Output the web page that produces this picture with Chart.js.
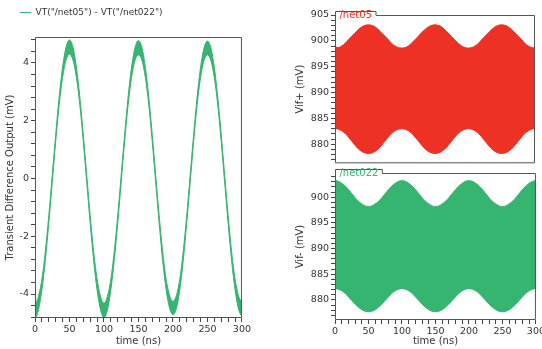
<!DOCTYPE html>
<html>
<head>
<meta charset="utf-8">
<script src="https://cdn.jsdelivr.net/npm/chart.js@4.4.1/dist/chart.umd.min.js"></script>
<style>
  body { margin: 0; background: #fff; width: 542px; height: 349px; position: relative; overflow: hidden; }
  canvas { position: absolute; }
</style>
</head>
<body>
<canvas id="diffChart" width="253" height="349" style="left:0;top:0"></canvas>
<canvas id="plusChart" width="252" height="171" style="left:290px;top:0"></canvas>
<canvas id="minusChart" width="257" height="184" style="left:290px;top:165px"></canvas>
<script>
// --- Datos ---
const timeNs = [0, 1, 5, 10, 15, 20, 25, 30, 35, 40, 45, 50,
  55, 60, 65, 70, 75, 80, 85, 90, 95, 100,
  105, 110, 115, 120, 125, 130, 135, 140, 145, 150,
  155, 160, 165, 170, 175, 180, 185, 190, 195, 200,
  205, 210, 215, 220, 225, 230, 235, 240, 245, 250,
  255, 260, 265, 270, 275, 280, 285, 290, 295, 300];

// diferencia VT(net05) - VT(net022), borde sup / inf de la banda (mV)
const diffUpper = [0, -4.30, -4.08, -3.48, -2.52, -1.28, 0.12, 1.52, 2.82, 3.86, 4.55, 4.80,
  4.55, 3.86, 2.82, 1.52, 0.12, -1.28, -2.52, -3.48, -4.08, -4.32,
  -4.08, -3.47, -2.50, -1.26, 0.14, 1.54, 2.83, 3.86, 4.54, 4.78,
  4.54, 3.85, 2.81, 1.51, 0.11, -1.28, -2.51, -3.46, -4.04, -4.25,
  -4.05, -3.47, -2.50, -1.26, 0.13, 1.53, 2.82, 3.85, 4.52, 4.76,
  4.53, 3.85, 2.81, 1.51, 0.11, -1.28, -2.52, -3.47, -4.06, -4.30];
const diffLower = [-4.80, -4.80, -4.55, -3.86, -2.84, -1.55, -0.14, 1.28, 2.54, 3.50, 4.10, 4.30,
  4.10, 3.50, 2.54, 1.28, -0.14, -1.55, -2.84, -3.86, -4.55, -4.82,
  -4.55, -3.85, -2.82, -1.53, -0.12, 1.30, 2.55, 3.50, 4.09, 4.28,
  4.09, 3.49, 2.53, 1.27, -0.15, -1.55, -2.83, -3.83, -4.48, -4.72,
  -4.50, -3.84, -2.82, -1.53, -0.13, 1.29, 2.54, 3.49, 4.08, 4.28,
  4.08, 3.49, 2.53, 1.27, -0.15, -1.55, -2.84, -3.85, -4.52, -4.78];

// Vif+ (/net05) envolvente (mV)
const vifPlusUpper = [904.0, 898.8, 898.7, 899.0, 899.5, 900.2, 900.9, 901.5, 902.2, 902.7, 903.0, 903.1,
  903.0, 902.7, 902.2, 901.5, 900.9, 900.2, 899.5, 899.0, 898.7, 898.6,
  898.7, 899.0, 899.6, 900.2, 900.9, 901.6, 902.2, 902.7, 903.0, 903.1,
  903.0, 902.7, 902.1, 901.5, 900.8, 900.1, 899.5, 899.0, 898.7, 898.6,
  898.7, 899.0, 899.5, 900.2, 900.9, 901.5, 902.2, 902.7, 903.0, 903.1,
  903.0, 902.7, 902.2, 901.5, 900.9, 900.2, 899.5, 899.0, 898.7, 898.6];
const vifPlusLower = [883.0, 883.0, 882.9, 882.6, 882.1, 881.4, 880.6, 879.8, 879.1, 878.6, 878.3, 878.2,
  878.3, 878.6, 879.1, 879.8, 880.6, 881.4, 882.1, 882.6, 882.9, 883.0,
  882.9, 882.6, 882.1, 881.4, 880.6, 879.8, 879.1, 878.6, 878.3, 878.2,
  878.3, 878.6, 879.1, 879.8, 880.6, 881.4, 882.1, 882.6, 882.9, 883.0,
  882.9, 882.6, 882.1, 881.4, 880.6, 879.8, 879.1, 878.6, 878.3, 878.2,
  878.3, 878.6, 879.1, 879.8, 880.6, 881.4, 882.1, 882.6, 882.9, 883.0];

// Vif- (/net022) envolvente (mV)
const vifMinusUpper = [904.0, 903.4, 903.1, 902.7, 902.2, 901.5, 900.7, 899.9, 899.2, 898.7, 898.3, 898.2,
  898.3, 898.7, 899.2, 899.9, 900.7, 901.5, 902.2, 902.7, 903.1, 903.2,
  903.1, 902.7, 902.2, 901.5, 900.7, 899.9, 899.2, 898.7, 898.3, 898.2,
  898.3, 898.7, 899.2, 899.9, 900.7, 901.5, 902.2, 902.7, 903.1, 903.2,
  903.1, 902.7, 902.2, 901.5, 900.7, 899.9, 899.2, 898.7, 898.3, 898.2,
  898.3, 898.7, 899.2, 899.9, 900.7, 901.5, 902.2, 902.7, 903.1, 903.2];
const vifMinusLower = [882.2, 882.2, 882.1, 881.8, 881.3, 880.6, 879.9, 879.2, 878.6, 878.1, 877.8, 877.7,
  877.8, 878.1, 878.6, 879.2, 879.9, 880.6, 881.3, 881.8, 882.1, 882.2,
  882.1, 881.8, 881.3, 880.6, 879.9, 879.2, 878.6, 878.1, 877.8, 877.7,
  877.8, 878.1, 878.6, 879.2, 879.9, 880.6, 881.3, 881.8, 882.1, 882.2,
  882.1, 881.8, 881.3, 880.6, 879.9, 879.2, 878.6, 878.1, 877.8, 877.7,
  877.8, 878.1, 878.6, 879.2, 879.9, 880.6, 881.3, 881.8, 882.1, 882.2];

const diffLegend = 'VT("/net05") - VT("/net022")';
const plusTab = '/net05';
const minusTab = '/net022';

document.addEventListener("DOMContentLoaded", function () {
  const GREEN = '#35b56f';
  const RED = '#ee3125';
  const TXT = '#333';
  const FONT = 'DejaVu Sans';

  const pts = arr => timeNs.map((t, i) => ({ x: t, y: arr[i] }));
  const isMult = (v, m) => Math.abs(v / m - Math.round(v / m)) < 1e-6;

  // caja completa + pestaña con nombre de red
  const frame = {
    id: 'frame',
    afterDraw(chart, args, opts) {
      const { ctx, chartArea: a } = chart;
      const l = a.left + 0.5, r = a.right - 0.5, t = a.top + 0.5, b = a.bottom - 0.5;
      ctx.save();
      ctx.strokeStyle = '#555';
      ctx.lineWidth = 1;
      ctx.beginPath();
      if (opts.tab) {
        ctx.font = '10px ' + FONT;
        const w = ctx.measureText(opts.tab).width + 8;
        ctx.moveTo(l + w, t);
        ctx.lineTo(l + w, t - 4);
        ctx.lineTo(l, t - 4);
        ctx.lineTo(l, b);
        ctx.lineTo(r, b);
        ctx.lineTo(r, t);
        ctx.lineTo(l + w, t);
        ctx.stroke();
        ctx.fillStyle = opts.color;
        ctx.textBaseline = 'middle';
        ctx.fillText(opts.tab, l + 4, t);
      } else {
        ctx.rect(l, t, r - l, b - t);
        ctx.stroke();
      }
      ctx.restore();
    }
  };

  // leyenda: más aire debajo y corrida a la derecha
  const legendNudge = {
    id: 'legendNudge',
    beforeInit(chart) {
      const lg = chart.legend;
      if (!lg) return;
      const fit = lg.fit, draw = lg.draw;
      lg.fit = function () { fit.call(this); this.height += 10; };
      lg.draw = function () {
        this.ctx.save();
        this.ctx.translate(14, 0);
        draw.call(this);
        this.ctx.restore();
      };
    }
  };

  const tickGrid = { drawOnChartArea: false, drawTicks: true, tickLength: 4, color: '#444' };

  function xAxis(showLabels, height) {
    return {
      type: 'linear', min: 0, max: 300,
      display: showLabels,
      border: { display: false },
      grid: tickGrid,
      ticks: {
        stepSize: 10, autoSkip: false, maxRotation: 0, includeBounds: false,
        color: TXT, font: { family: FONT, size: 9.5 }, padding: 2,
        callback: v => isMult(v, 50) ? v : ''
      },
      title: { display: true, text: 'time (ns)', color: TXT, font: { family: FONT, size: 10 }, padding: { top: 0, bottom: 2 } },
      afterFit: s => { s.height = height; }
    };
  }

  function yAxis(min, max, step, major, title, width) {
    return {
      min: min, max: max,
      border: { display: false },
      grid: tickGrid,
      ticks: {
        stepSize: step, autoSkip: false, includeBounds: false,
        color: TXT, font: { family: FONT, size: 9.5 }, padding: 2,
        callback: v => isMult(v, major) ? v : ''
      },
      title: { display: true, text: title, color: TXT, font: { family: FONT, size: 10 }, padding: { top: 4, bottom: 0 } },
      afterFit: s => { s.width = width; }
    };
  }

  function band(label, upper, lower, color) {
    return [
      { label: label, data: pts(upper), borderColor: color, backgroundColor: color, borderWidth: 1,
        pointRadius: 0, fill: '+1', cubicInterpolationMode: 'monotone' },
      { label: label + ' min', data: pts(lower), borderColor: color, backgroundColor: color, borderWidth: 1,
        pointRadius: 0, fill: false, cubicInterpolationMode: 'monotone' }
    ];
  }

  // --- Gráfico izquierdo: diferencia ---
  new Chart(document.getElementById('diffChart'), {
    type: 'line',
    data: { datasets: band(diffLegend, diffUpper, diffLower, GREEN) },
    options: {
      responsive: false, animation: false, parsing: false,
      layout: { padding: { top: 2, right: 9, bottom: 0, left: 0 } },
      plugins: {
        legend: {
          display: true, align: 'start',
          labels: {
            filter: item => item.datasetIndex === 0,
            usePointStyle: true, pointStyle: 'line', pointStyleWidth: 11,
            color: TXT, font: { family: FONT, size: 9 }, padding: 6
          }
        },
        tooltip: { enabled: false },
        frame: {}
      },
      scales: {
        x: xAxis(true, 31),
        y: yAxis(-4.83, 4.9, 0.4, 2, 'Transient Difference Output (mV)', 35)
      }
    },
    plugins: [frame, legendNudge]
  });

  // --- Vif+ ---
  new Chart(document.getElementById('plusChart'), {
    type: 'line',
    data: { datasets: band('Vif+', vifPlusUpper, vifPlusLower, RED) },
    options: {
      responsive: false, animation: false, parsing: false,
      layout: { padding: { top: 15, right: 7, bottom: 0, left: 0 } },
      plugins: { legend: { display: false }, tooltip: { enabled: false }, frame: { tab: plusTab, color: RED } },
      scales: {
        x: xAxis(false, 0),
        y: yAxis(876.3, 905, 1, 5, 'Vif+ (mV)', 45)
      }
    },
    plugins: [frame]
  });

  // --- Vif- ---
  new Chart(document.getElementById('minusChart'), {
    type: 'line',
    data: { datasets: band('Vif-', vifMinusUpper, vifMinusLower, GREEN) },
    options: {
      responsive: false, animation: false, parsing: false,
      layout: { padding: { top: 8, right: 7, bottom: 0, left: 0 } },
      plugins: { legend: { display: false }, tooltip: { enabled: false }, frame: { tab: minusTab, color: GREEN } },
      scales: {
        x: xAxis(true, 29),
        y: yAxis(876.1, 904.7, 1, 5, 'Vif- (mV)', 45)
      }
    },
    plugins: [frame]
  });
});
</script>
</body>
</html>
